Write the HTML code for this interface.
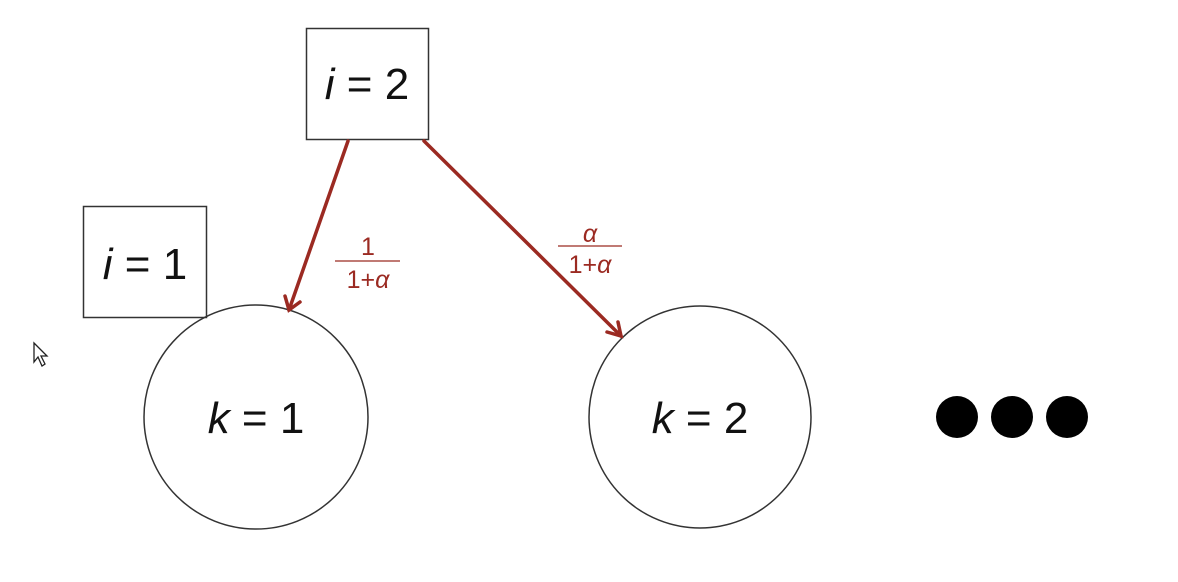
<!DOCTYPE html>
<html><head><style>body{margin:0;background:#fff}svg{display:block}</style></head><body>
<svg width="1178" height="582" viewBox="0 0 1178 582" xmlns="http://www.w3.org/2000/svg" font-family="Liberation Sans, sans-serif">
<rect x="306.5" y="28.5" width="122" height="111" fill="none" stroke="#333" stroke-width="1.5"/>
<text x="367" y="99" font-size="44" text-anchor="middle" fill="#111"><tspan font-style="italic">i</tspan> = 2</text>
<rect x="83.5" y="206.5" width="123" height="111" fill="none" stroke="#333" stroke-width="1.5"/>
<text x="145" y="279" font-size="44" text-anchor="middle" fill="#111"><tspan font-style="italic">i</tspan> = 1</text>
<circle cx="256" cy="417" r="112" fill="none" stroke="#333" stroke-width="1.5"/>
<text x="256" y="433" font-size="44" text-anchor="middle" fill="#111"><tspan font-style="italic">k</tspan> = 1</text>
<circle cx="700" cy="417" r="111" fill="none" stroke="#333" stroke-width="1.5"/>
<text x="700" y="433" font-size="44" text-anchor="middle" fill="#111"><tspan font-style="italic">k</tspan> = 2</text>
<circle cx="957" cy="417" r="21" fill="#000"/>
<circle cx="1012" cy="417" r="21" fill="#000"/>
<circle cx="1067" cy="417" r="21" fill="#000"/>
<g stroke="#9b2a22" stroke-width="3.5" fill="none" stroke-linecap="round">
<line x1="348" y1="141" x2="289" y2="310"/>
<polyline points="285,296 289,310 300,302"/>
<line x1="424" y1="141" x2="621" y2="336"/>
<polyline points="607,332 621,336 618,322"/>
</g>
<g fill="#9b2a22" font-size="25" text-anchor="middle">
<text x="368" y="255">1</text>
<line x1="335" y1="261" x2="400" y2="261" stroke="#9b2a22" stroke-width="1.3"/>
<text x="368" y="288">1+<tspan font-style="italic">α</tspan></text>
<text x="590" y="242"><tspan font-style="italic">α</tspan></text>
<line x1="558" y1="246" x2="622" y2="246" stroke="#9b2a22" stroke-width="1.3"/>
<text x="590" y="273">1+<tspan font-style="italic">α</tspan></text>
</g>
<path d="M34 343 L34 362 L38 357 L42 366 L45 364 L41 356 L47 356 Z" fill="#fff" stroke="#222" stroke-width="1.3"/>
</svg>
</body></html>
